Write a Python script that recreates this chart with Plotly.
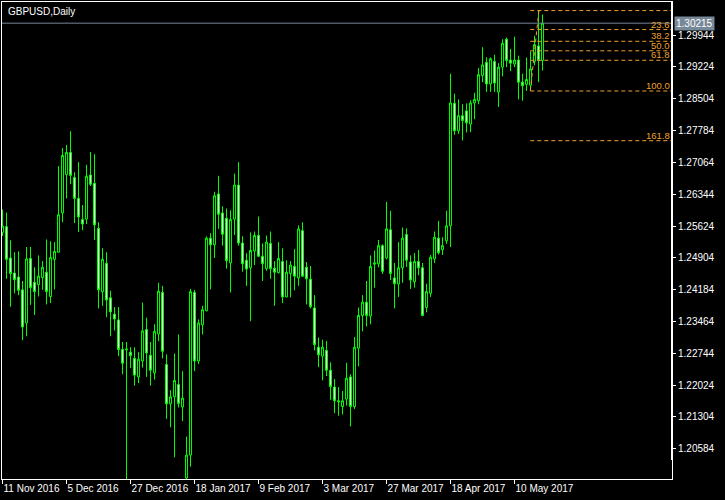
import plotly.graph_objects as go
import pandas as pd

# ---------------- data ----------------
chart_title = "GBPUSD,Daily"
dates = pd.bdate_range("2016-11-11", "2017-05-19")  # 136 daily bars

opens = [1.2548, 1.2561, 1.2490, 1.2456, 1.2447, 1.2418, 1.2343, 1.2489, 1.2435, 1.2430,
         1.2446, 1.2458, 1.2403, 1.2487, 1.2503, 1.2592, 1.2679, 1.2729, 1.2672, 1.2625,
         1.2577, 1.2578, 1.2678, 1.2659, 1.2557, 1.2414, 1.2478, 1.2400, 1.2363, 1.2350,
         1.2283, 1.2282, 1.2277, 1.2263, 1.2221, 1.2257, 1.2328, 1.2270, 1.2230, 1.2318,
         1.2412, 1.2249, 1.2160, 1.2176, 1.2204, 1.2153, 1.1992, 1.2044, 1.2412, 1.2257,
         1.2339, 1.2371, 1.2535, 1.2520, 1.2635, 1.2592, 1.2580, 1.2479, 1.2578, 1.2655,
         1.2524, 1.2485, 1.2468, 1.2506, 1.2541, 1.2494, 1.2466, 1.2523, 1.2467, 1.2457,
         1.2482, 1.2402, 1.2455, 1.2471, 1.2445, 1.2552, 1.2469, 1.2442, 1.2377, 1.2288,
         1.2268, 1.2281, 1.2236, 1.2198, 1.2167, 1.2154, 1.2171, 1.2221, 1.2154, 1.2286,
         1.2360, 1.2390, 1.2359, 1.2476, 1.2477, 1.2518, 1.2490, 1.2554, 1.2445, 1.2431,
         1.2468, 1.2543, 1.2481, 1.2436, 1.2482, 1.2468, 1.2378, 1.2410, 1.2488, 1.2535,
         1.2509, 1.2529, 1.2563, 1.2840, 1.2778, 1.2812, 1.2823, 1.2793, 1.2841, 1.2846,
         1.2903, 1.2933, 1.2884, 1.2935, 1.2866, 1.2922, 1.2985, 1.2938, 1.2929, 1.2938,
         1.2888, 1.2883, 1.2881, 1.2935, 1.2970, 1.2937]

highs = [1.2600, 1.2593, 1.2530, 1.2503, 1.2505, 1.2438, 1.2515, 1.2515, 1.2469, 1.2496,
         1.2483, 1.2532, 1.2528, 1.2526, 1.2698, 1.2739, 1.2746, 1.2777, 1.2684, 1.2707,
         1.2610, 1.2701, 1.2730, 1.2725, 1.2571, 1.2512, 1.2503, 1.2416, 1.2379, 1.2379,
         1.2300, 1.2300, 1.2288, 1.2288, 1.2277, 1.2389, 1.2355, 1.2300, 1.2340, 1.2434,
         1.2427, 1.2272, 1.2191, 1.2274, 1.2317, 1.2234, 1.2086, 1.2420, 1.2418, 1.2351,
         1.2382, 1.2539, 1.2546, 1.2640, 1.2676, 1.2607, 1.2602, 1.2598, 1.2681, 1.2707,
         1.2539, 1.2501, 1.2548, 1.2550, 1.2584, 1.2523, 1.2541, 1.2550, 1.2483, 1.2526,
         1.2512, 1.2485, 1.2483, 1.2510, 1.2564, 1.2571, 1.2481, 1.2472, 1.2406, 1.2310,
         1.2305, 1.2302, 1.2254, 1.2216, 1.2198, 1.2189, 1.2253, 1.2227, 1.2311, 1.2378,
         1.2406, 1.2438, 1.2496, 1.2507, 1.2531, 1.2521, 1.2617, 1.2597, 1.2479, 1.2526,
         1.2559, 1.2557, 1.2496, 1.2501, 1.2508, 1.2479, 1.2432, 1.2497, 1.2550, 1.2574,
         1.2537, 1.2597, 1.2907, 1.2862, 1.2849, 1.2838, 1.2840, 1.2847, 1.2864, 1.2920,
         1.2967, 1.2944, 1.2944, 1.2950, 1.2931, 1.2985, 1.2989, 1.2963, 1.2991, 1.2948,
         1.2907, 1.2944, 1.2958, 1.2993, 1.3050, 1.3041]

lows = [1.2540, 1.2443, 1.2380, 1.2410, 1.2406, 1.2304, 1.2313, 1.2384, 1.2361, 1.2403,
        1.2418, 1.2385, 1.2388, 1.2419, 1.2502, 1.2571, 1.2625, 1.2657, 1.2569, 1.2549,
        1.2553, 1.2567, 1.2653, 1.2531, 1.2376, 1.2382, 1.2356, 1.2313, 1.2326, 1.2268,
        1.2227, 1.1960, 1.2241, 1.2201, 1.2207, 1.2242, 1.2221, 1.2201, 1.2215, 1.2302,
        1.2263, 1.2126, 1.2107, 1.2039, 1.2152, 1.2121, 1.1985, 1.2018, 1.2234, 1.2250,
        1.2317, 1.2369, 1.2419, 1.2490, 1.2556, 1.2518, 1.2466, 1.2412, 1.2542, 1.2518,
        1.2459, 1.2427, 1.2347, 1.2474, 1.2492, 1.2438, 1.2461, 1.2443, 1.2382, 1.2455,
        1.2388, 1.2401, 1.2401, 1.2417, 1.2427, 1.2447, 1.2385, 1.2376, 1.2281, 1.2243,
        1.2213, 1.2223, 1.2169, 1.2139, 1.2133, 1.2136, 1.2156, 1.2109, 1.2148, 1.2245,
        1.2324, 1.2335, 1.2340, 1.2423, 1.2469, 1.2454, 1.2487, 1.2440, 1.2376, 1.2402,
        1.2434, 1.2470, 1.2420, 1.2423, 1.2451, 1.2358, 1.2367, 1.2402, 1.2479, 1.2498,
        1.2497, 1.2522, 1.2515, 1.2769, 1.2771, 1.2756, 1.2774, 1.2775, 1.2804, 1.2838,
        1.2888, 1.2866, 1.2866, 1.2866, 1.2832, 1.2901, 1.2922, 1.2913, 1.2922, 1.2849,
        1.2846, 1.2868, 1.2868, 1.2926, 1.2888, 1.2914]

closes = [1.2562, 1.2487, 1.2455, 1.2441, 1.2417, 1.2334, 1.2488, 1.2423, 1.2414, 1.2449,
          1.2469, 1.2414, 1.2491, 1.2505, 1.2588, 1.2722, 1.2729, 1.2677, 1.2625, 1.2583,
          1.2567, 1.2675, 1.2657, 1.2565, 1.2418, 1.2487, 1.2395, 1.2368, 1.2352, 1.2283,
          1.2252, 1.2284, 1.2269, 1.2225, 1.2261, 1.2325, 1.2275, 1.2236, 1.2324, 1.2415,
          1.2279, 1.2160, 1.2176, 1.2213, 1.2161, 1.2173, 1.2044, 1.2414, 1.2257, 1.2343,
          1.2373, 1.2535, 1.2520, 1.2631, 1.2589, 1.2544, 1.2484, 1.2577, 1.2655, 1.2524,
          1.2477, 1.2465, 1.2507, 1.2541, 1.2494, 1.2477, 1.2526, 1.2466, 1.2458, 1.2489,
          1.2402, 1.2458, 1.2474, 1.2449, 1.2556, 1.2449, 1.2443, 1.2380, 1.2294, 1.2271,
          1.2288, 1.2236, 1.2199, 1.2167, 1.2165, 1.2167, 1.2218, 1.2154, 1.2288, 1.2360,
          1.2390, 1.2360, 1.2471, 1.2479, 1.2518, 1.2460, 1.2556, 1.2455, 1.2432, 1.2468,
          1.2535, 1.2485, 1.2440, 1.2482, 1.2468, 1.2360, 1.2414, 1.2492, 1.2537, 1.2502,
          1.2518, 1.2563, 1.2841, 1.2778, 1.2812, 1.2801, 1.2796, 1.2841, 1.2849, 1.2905,
          1.2927, 1.2884, 1.2941, 1.2886, 1.2922, 1.2976, 1.2937, 1.2931, 1.2938, 1.2888,
          1.2880, 1.2894, 1.2918, 1.2973, 1.2937, 1.30215]

bid_price = 1.30215
price_ticks = [1.29944, 1.29224, 1.28504, 1.27784, 1.27064, 1.26344, 1.25624,
               1.24904, 1.24184, 1.23464, 1.22744, 1.22024, 1.21304, 1.20584]
date_tick_every = 16

# Fibonacci retracement (anchor bars and prices)
fib_low_bar, fib_low = 132, 1.2868
fib_high_bar, fib_high = 134, 1.3050
fib_levels = [0.0, 23.6, 38.2, 50.0, 61.8, 100.0, 161.8]

# ---------------- figure ----------------
n = len(closes)
xs = list(range(n))
X_MIN, X_MAX = -0.125, 167.375
Y_MIN, Y_MAX = 1.198992, 1.306942
FIB_COLOR = "#EFA02E"
FONT = "Liberation Sans, Arial, sans-serif"

fig = go.Figure()

# Fibonacci levels (drawn beneath candles)
for lv in fib_levels:
    p = fib_high - lv / 100.0 * (fib_high - fib_low)
    fig.add_trace(go.Scatter(x=[fib_low_bar - 0.05, X_MAX], y=[p, p], mode="lines",
                             line=dict(color=FIB_COLOR, width=1, dash="4px,3px"),
                             hoverinfo="skip", showlegend=False))
    if lv > 0:
        fig.add_annotation(x=1, xref="paper", y=p, yref="y", text=f"{lv:.1f}",
                           showarrow=False, xanchor="right", yanchor="bottom",
                           xshift=-1, yshift=-1, borderpad=0,
                           font=dict(family=FONT, size=9.5, color=FIB_COLOR))
fig.add_trace(go.Scatter(x=[fib_low_bar - 0.05, fib_high_bar + 0.1], y=[fib_low, fib_high],
                         mode="lines", line=dict(color=FIB_COLOR, width=1, dash="4px,3px"),
                         hoverinfo="skip", showlegend=False))

# bid line
fig.add_trace(go.Scatter(x=[X_MIN, X_MAX], y=[bid_price, bid_price], mode="lines",
                         line=dict(color="#778899", width=1),
                         hoverinfo="skip", showlegend=False))

fig.add_trace(go.Candlestick(
    x=xs, open=opens, high=highs, low=lows, close=closes,
    increasing=dict(line=dict(color="#00FF00", width=1), fillcolor="#000000"),
    decreasing=dict(line=dict(color="#00FF00", width=1), fillcolor="#FFFFFF"),
    whiskerwidth=0, showlegend=False, hoverinfo="skip"))

tick_idx = list(range(0, n, date_tick_every))
tick_txt = [f"{dates[i].day} {dates[i].strftime('%b %Y')}" for i in tick_idx]

fig.update_layout(
    width=725, height=500,
    margin=dict(l=2, r=53, t=2, b=21, autoexpand=False),
    paper_bgcolor="#000000", plot_bgcolor="#000000",
    font=dict(family=FONT, size=10, color="#FFFFFF"),
    hovermode=False, dragmode=False,
    xaxis=dict(range=[X_MIN, X_MAX], showgrid=False, zeroline=False, automargin=False,
               rangeslider=dict(visible=False),
               tickmode="array", tickvals=tick_idx, ticktext=tick_txt, tickangle=0,
               ticks="outside", ticklen=4, tickcolor="#FFFFFF", tickwidth=1,
               ticklabelposition="outside right",
               tickfont=dict(family=FONT, size=10, color="#FFFFFF"),
               showline=True, linecolor="#FFFFFF", linewidth=1, mirror=True),
    yaxis=dict(range=[Y_MIN, Y_MAX], side="right", showgrid=False, zeroline=False,
               automargin=False,
               tickmode="array", tickvals=price_ticks,
               ticktext=[f"{v:.5f}" for v in price_ticks],
               ticks="outside", ticklen=3, tickcolor="#FFFFFF", tickwidth=1,
               tickfont=dict(family=FONT, size=10, color="#FFFFFF"),
               showline=True, linecolor="#FFFFFF", linewidth=1, mirror=True),
    boxgap=0.3, boxgroupgap=0.3,
)

# heavier price-scale border, as in the terminal window
fig.add_shape(type="line", xref="paper", x0=1, x1=1, yref="y", y0=1.2033, y1=Y_MAX,
              line=dict(color="#FFFFFF", width=2))

# title
fig.add_annotation(x=0, xref="paper", y=1, yref="paper", text=chart_title,
                   showarrow=False, xanchor="left", yanchor="top", xshift=4, yshift=-2,
                   font=dict(family=FONT, size=10, color="#FFFFFF"))
# bid price label
fig.add_annotation(x=1, xref="paper", y=bid_price, yref="y", text=f"{bid_price:.5f}",
                   showarrow=False, xanchor="left", yanchor="middle", xshift=2,
                   bgcolor="#778899", borderpad=1,
                   font=dict(family=FONT, size=10, color="#FFFFFF"))

fig.write_html("out.html", config={"displayModeBar": False, "staticPlot": True},
               post_script="document.body.style.margin='0px';document.body.style.overflow='hidden';")
